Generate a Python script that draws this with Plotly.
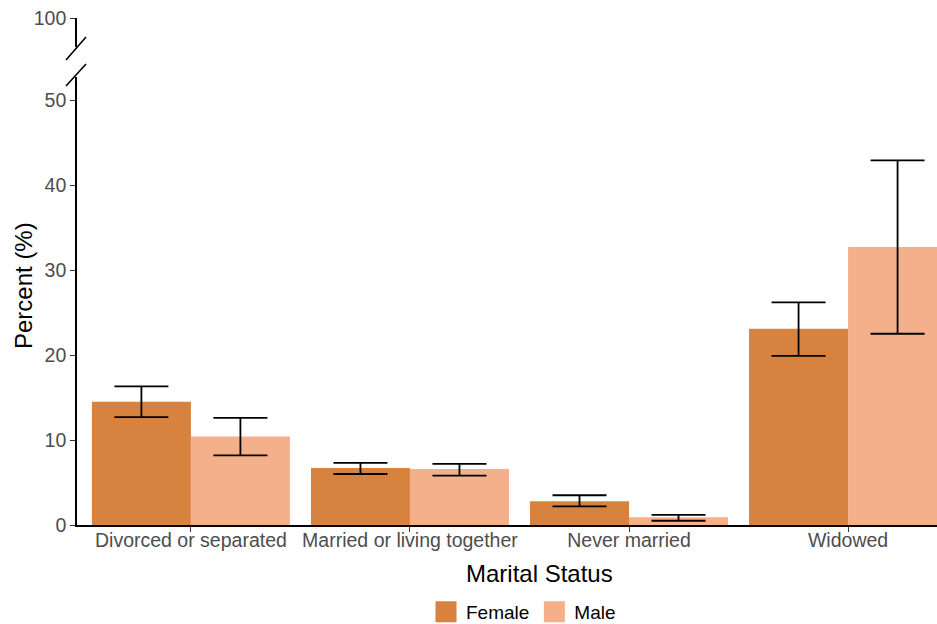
import plotly.graph_objects as go

categories = ["Divorced or separated", "Married or living together", "Never married", "Widowed"]
female = [14.5, 6.7, 2.8, 23.1]
female_lo = [12.7, 6.0, 2.2, 19.9]
female_hi = [16.3, 7.3, 3.5, 26.2]
male = [10.4, 6.6, 0.9, 32.7]
male_lo = [8.2, 5.8, 0.5, 22.5]
male_hi = [12.6, 7.2, 1.2, 42.9]

FEMALE_COLOR = "#D8823F"
MALE_COLOR = "#F4B08B"

W, H = 937, 624
ML, MR, MT, MB = 77, 0, 18, 99
PW, PH = W - ML - MR, H - MT - MB


def px_x(p):
    return (p - ML) / PW


def px_y(p):
    return (H - MB - p) / PH


fig = go.Figure()

for name, vals, lo, hi, col in [("Female", female, female_lo, female_hi, FEMALE_COLOR),
                                ("Male", male, male_lo, male_hi, MALE_COLOR)]:
    fig.add_trace(go.Bar(
        x=categories, y=vals, name=name, marker=dict(color=col, line=dict(width=0)),
        showlegend=False,
        error_y=dict(type="data", symmetric=False,
                     array=[h - v for h, v in zip(hi, vals)],
                     arrayminus=[v - l for v, l in zip(vals, lo)],
                     color="black", thickness=1.8, width=27),
    ))

# legend-only entries with larger swatches
for name, col in [("Female", FEMALE_COLOR), ("Male", MALE_COLOR)]:
    fig.add_trace(go.Scatter(x=[None], y=[None], mode="markers", name=name,
                             marker=dict(symbol="square", size=26, color=col,
                                         line=dict(color=col, width=5))))

# invisible trace for upper axis segment
fig.add_trace(go.Scatter(x=[categories[0]], y=[100], yaxis="y2", mode="markers",
                         marker=dict(opacity=0), showlegend=False, hoverinfo="skip"))

FONT = "Liberation Sans, Arial, sans-serif"
tickfont = dict(family=FONT, size=19.5, color="#4d4d4d")

lower_top = px_y(77)
upper_bottom = px_y(47)

axis_common = dict(showline=True, linecolor="black", linewidth=1.6, ticks="outside",
                   ticklen=5, tickcolor="#333333", tickwidth=1.2, tickfont=tickfont,
                   showgrid=False, zeroline=False, fixedrange=True)

fig.update_layout(
    width=W, height=H,
    margin=dict(l=ML, r=MR, t=MT, b=MB, autoexpand=False),
    paper_bgcolor="white", plot_bgcolor="white",
    font=dict(family=FONT, color="black"),
    barmode="group", bargap=0.096, bargroupgap=0,
    xaxis=dict(range=[-0.52, 3.406], ticklabelstandoff=-8, **axis_common),
    yaxis=dict(domain=[0, lower_top], range=[0, (H - MB - 77) / 8.5],
               tickvals=[0, 10, 20, 30, 40, 50], **axis_common),
    yaxis2=dict(domain=[upper_bottom, 1], range=[100 - 29 / 8.5, 100], anchor="x",
                tickvals=[100], **axis_common),
    legend=dict(orientation="h", x=px_x(426), xanchor="left", y=px_y(612), yanchor="middle",
                font=dict(size=19, color="black"), itemwidth=30, tracegroupgap=0,
                bgcolor="rgba(0,0,0,0)"),
    annotations=[
        dict(text="Marital Status", x=px_x(539), y=px_y(573), xref="paper",
             yref="paper", showarrow=False, font=dict(size=24, color="black"),
             xanchor="center", yanchor="middle"),
        dict(text="Percent (%)", x=px_x(23), y=px_y(285), xref="paper",
             yref="paper", showarrow=False, font=dict(size=24, color="black"),
             textangle=-90, xanchor="center", yanchor="middle"),
    ],
    shapes=[
        dict(type="line", xref="paper", yref="paper", x0=px_x(66), y0=px_y(60),
             x1=px_x(86), y1=px_y(37), line=dict(color="black", width=1.6)),
        dict(type="line", xref="paper", yref="paper", x0=px_x(66), y0=px_y(86),
             x1=px_x(86), y1=px_y(64), line=dict(color="black", width=1.6)),
    ],
)

fig.write_html("out.html", config={"displayModeBar": False},
               post_script="document.body.style.margin='0';document.body.style.overflow='hidden';")
